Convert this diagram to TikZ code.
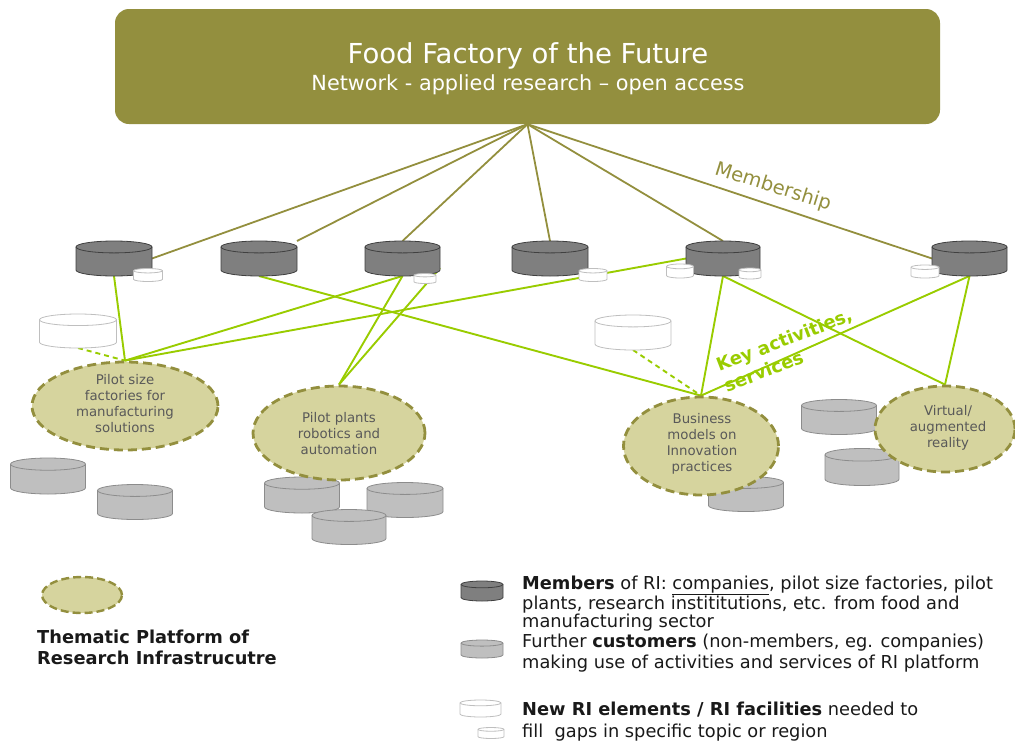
\documentclass[tikz,border=0pt]{standalone}
\usepackage{fontspec}
\setmainfont{DejaVu Sans}
\usetikzlibrary{shapes.geometric}
\pgfdeclarelayer{bg}
\pgfsetlayers{bg,main}
\definecolor{ffolive}{RGB}{147,143,62}
\definecolor{ffgreen}{RGB}{153,204,0}
\definecolor{ffpale}{RGB}{214,212,158}
\definecolor{fftext}{RGB}{89,89,89}
\definecolor{cdark}{RGB}{127,127,127}
\definecolor{cdarkline}{RGB}{64,64,64}
\definecolor{cgray}{RGB}{191,191,191}
\definecolor{cgrayline}{RGB}{140,140,140}
\definecolor{cnewline}{RGB}{191,191,191}
\newcommand\dbcyl[6]{%
  \node[inner sep=0pt, outer sep=0pt, minimum width=#4pt, minimum height=#5pt] (#1) at (#2,-#3) {};%
  \pgfmathsetmacro\cylL{#2-#4/2}%
  \pgfmathsetmacro\cylR{#2+#4/2}%
  \pgfmathsetmacro\cylr{#5*0.17}%
  \pgfmathsetmacro\cylT{-#3+#5/2-\cylr}%
  \pgfmathsetmacro\cylB{-#3-#5/2+\cylr}%
  \pgfmathsetmacro\cylrx{#4/2}%
  \path[#6] (\cylL,\cylT) -- (\cylL,\cylB) arc[start angle=180,end angle=360,x radius=\cylrx pt,y radius=\cylr pt] -- (\cylR,\cylT) arc[start angle=0,end angle=180,x radius=\cylrx pt,y radius=\cylr pt] -- cycle;%
  \draw[#6, fill=none] (\cylL,\cylT) arc[start angle=180,end angle=360,x radius=\cylrx pt,y radius=\cylr pt];%
}
\begin{document}
\begin{tikzpicture}[x=1pt,y=1pt,
  olv/.style={draw=ffolive, line width=1.8pt},
  grn/.style={draw=ffgreen, line width=1.9pt},
  grndash/.style={grn, dash pattern=on 5pt off 4pt},
  topbox/.style={rectangle, rounded corners=14pt, fill=ffolive, minimum width=825pt, minimum height=115pt, inner sep=0pt},
  plat/.style={ellipse, fill=ffpale, draw=ffolive, line width=2.8pt, dash pattern=on 9pt off 5pt, inner sep=0pt},
  platlbl/.style={text=fftext, font=\fontsize{13.3}{16}\selectfont, align=center, inner sep=0pt},
  darkcyl/.style={fill=cdark, draw=cdarkline, line width=0.8pt},
  graycyl/.style={fill=cgray, draw=cgrayline, line width=0.8pt},
  newcyl/.style={fill=white, draw=cnewline, line width=0.8pt},
  legtxt/.style={anchor=base west, inner sep=0pt, font=\fontsize{17.8}{20}\selectfont, text=black!90},
  legbold/.style={legtxt, font=\bfseries\fontsize{17.8}{20}\selectfont},
]
\useasboundingbox (0,0) rectangle (1015,-742);

% top box
\node[topbox] (top) at (527.5,-66.5) {};
\node[anchor=base, text=white, inner sep=0pt, font=\fontsize{27.5}{32}\selectfont] (title) at (528,-63) {Food Factory of the Future};
\node[anchor=base, text=white, inner sep=0pt, font=\fontsize{20.8}{24}\selectfont] (subtitle) at (528,-90) {Network - applied research – open access};

% customer cylinders (behind platforms)
\dbcyl{C1}{48}{476}{75}{36}{graycyl}
\dbcyl{C2}{135}{502}{75}{35}{graycyl}
\dbcyl{C3}{302}{495}{75}{36}{graycyl}
\dbcyl{C4}{405}{500}{76}{35}{graycyl}
\dbcyl{C5}{349}{527}{74}{35}{graycyl}
\dbcyl{C6}{746}{494}{75}{35}{graycyl}
\dbcyl{C7}{839}{417}{75}{35}{graycyl}
\dbcyl{C8}{862}{467}{74}{37}{graycyl}

% member cylinders
\dbcyl{M1}{114}{258.5}{76}{35}{darkcyl}
\dbcyl{M2}{259}{258.5}{76}{35}{darkcyl}
\dbcyl{M3}{402.5}{258.5}{75}{35}{darkcyl}
\dbcyl{M4}{550}{258.5}{76}{35}{darkcyl}
\dbcyl{M5}{723}{258.5}{74}{35}{darkcyl}
\dbcyl{M6}{969.5}{258.5}{75}{35}{darkcyl}

% new RI elements
\dbcyl{s1}{148}{275}{29}{13}{newcyl}
\dbcyl{s3}{425}{278.5}{22}{10}{newcyl}
\dbcyl{s4}{593}{275}{28}{13}{newcyl}
\dbcyl{s5a}{680}{271}{27}{14}{newcyl}
\dbcyl{s5b}{750}{273.5}{22}{11}{newcyl}
\dbcyl{s6}{925}{271.5}{28}{13}{newcyl}
\dbcyl{W1}{78}{331}{77}{34}{newcyl}
\dbcyl{W2}{633}{332.5}{76}{35}{newcyl}

% thematic platforms
\node[plat, minimum width=186pt, minimum height=88pt] (E1) at (125,-406) {};
\node[platlbl] (E1t) at (125,-404) {Pilot size\\factories for\\manufacturing\\solutions};
\node[plat, minimum width=172pt, minimum height=94pt] (E2) at (339,-433) {};
\node[platlbl] (E2t) at (339,-434) {Pilot plants\\robotics and\\automation};
\node[plat, minimum width=155pt, minimum height=98pt] (E3) at (701,-446) {};
\node[platlbl] (E3t) at (702,-444) {Business\\models on\\Innovation\\practices};
\node[plat, minimum width=140pt, minimum height=86pt] (E4) at (945,-429) {};
\node[platlbl] (E4t) at (948,-428) {Virtual/\\augmented\\reality};

% labels on connectors
\node[text=ffolive, inner sep=0pt, rotate=-17.5, font=\fontsize{19.5}{22}\selectfont] (memb) at (773,-187) {Membership};
\node[text=ffgreen, inner sep=0pt, rotate=21, align=left, font=\bfseries\fontsize{18}{22}\selectfont] (keyact) at (788,-350) {Key activities,\\services};

\begin{pgfonlayer}{bg}
% membership connectors
\draw[olv] (top.south) -- (M1.east);
\draw[olv] (top.south) -- (M2.north east);
\draw[olv] (top.south) -- (M3.north);
\draw[olv] (top.south) -- (M4.north);
\draw[olv] (top.south) -- (M5.north);
\draw[olv] (top.south) -- (M6.west);
% key activities connectors
\draw[grn] (M1.south) -- (E1.north);
\draw[grn] (M2.south) -- (E3.north);
\draw[grn] (M3.south) -- (E1.north);
\draw[grn] (M3.south) -- (E2.north);
\draw[grn] ([yshift=8pt]M3.south east) -- (E2.north);
\draw[grn] (M5.west) -- (E1.north);
\draw[grn] (M5.south) -- (E3.north);
\draw[grn] (M5.south) -- (E4.north);
\draw[grn] (M6.south) -- (E3.north);
\draw[grn] (M6.south) -- (E4.north);
\draw[grndash] (W1.south) -- (E1.north);
\draw[grndash] (W2.south) -- (E3.north);
\end{pgfonlayer}

% legend
\node[plat, line width=2.4pt, dash pattern=on 8pt off 4pt, minimum width=80pt, minimum height=36pt] (LE) at (82,-595) {};
\node[legbold] (LEt1) at (37,-643) {Thematic Platform of};
\node[legbold] (LEt2) at (37,-664) {Research Infrastrucutre};

\dbcyl{LM}{482}{591}{42}{20}{darkcyl}
\dbcyl{LC}{482}{649}{42}{18}{graycyl}
\dbcyl{LN1}{480.5}{708.5}{41}{17}{newcyl}
\dbcyl{LN2}{491}{733}{26}{11}{newcyl}

\node[legtxt] (LMt1) at (522,-589) {\textbf{Members} of RI: \underline{companies}, pilot size factories, pilot};
\node[legtxt] (LMt2) at (522,-609) {plants, research instititutions, etc. from food and};
\node[legtxt] (LMt3) at (522,-627) {manufacturing sector};
\node[legtxt] (LCt1) at (522,-647) {Further \textbf{customers} (non-members, eg. companies)};
\node[legtxt] (LCt2) at (522,-668) {making use of activities and services of RI platform};
\node[legtxt] (LNt1) at (522,-715) {\textbf{New RI elements / RI facilities} needed to};
\node[legtxt] (LNt2) at (522,-737) {fill\ \ gaps in specific topic or region};
\end{tikzpicture}
\end{document}
